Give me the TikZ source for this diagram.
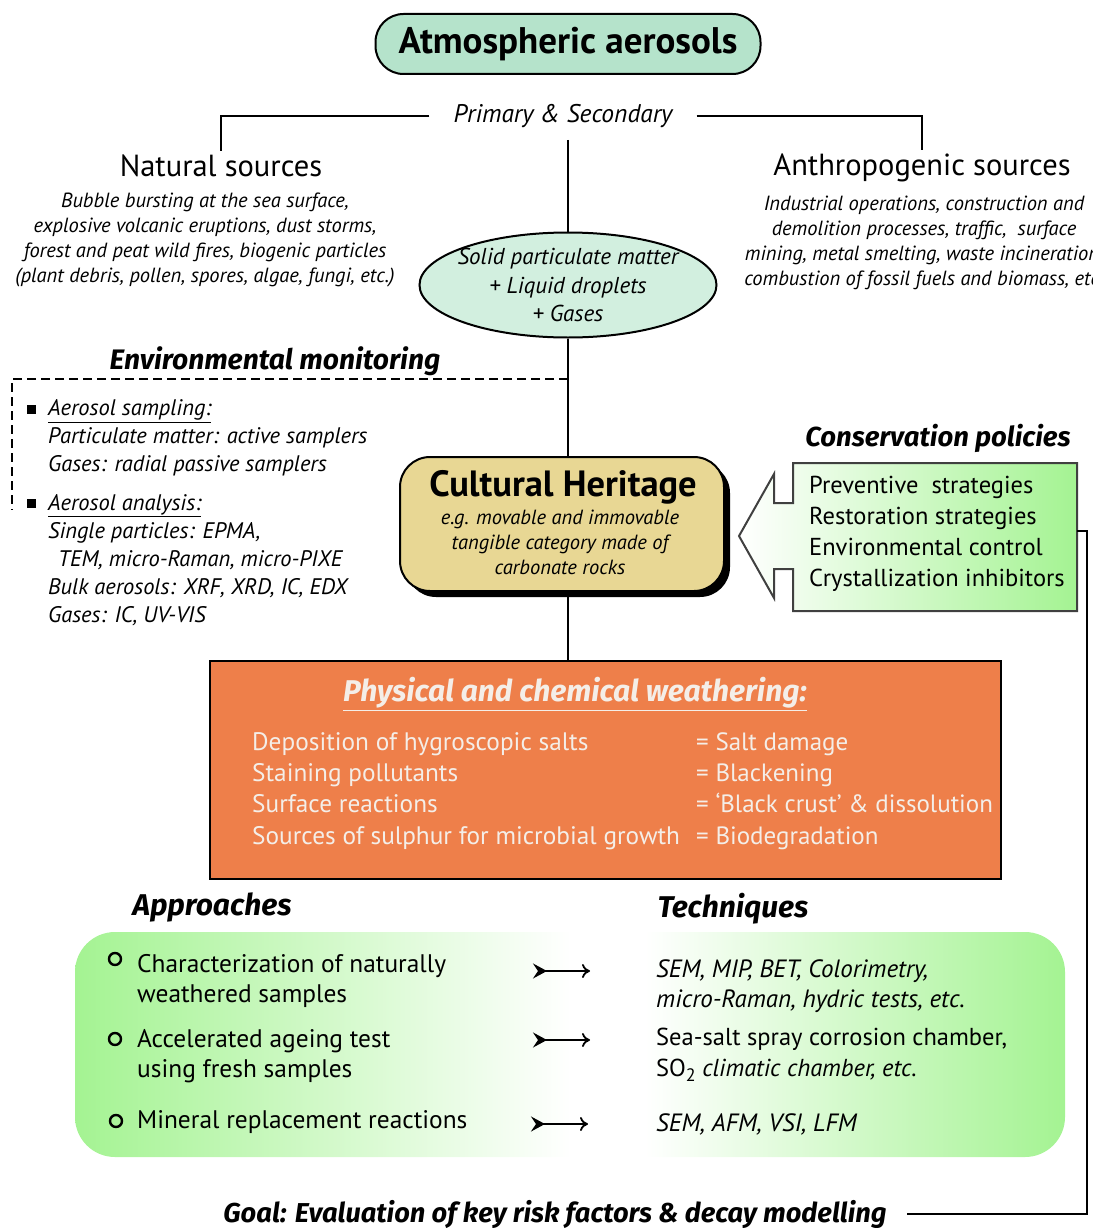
\documentclass[tikz,border=0pt]{standalone}
\usepackage{fontspec}
\setmainfont{PT Sans}
\newfontfamily\headfont{Fira Sans}
\usetikzlibrary{shapes.geometric, arrows.meta, shadows}

\definecolor{mintdark}{HTML}{B5E3CB}
\definecolor{mintlight}{HTML}{D2EFDF}
\definecolor{khaki}{HTML}{E8D794}
\definecolor{leafgreen}{HTML}{A4F392}
\definecolor{rust}{HTML}{EE7F4A}
\definecolor{paletext}{HTML}{F4EEE8}

\newcommand{\fsz}[2]{\fontsize{#1}{#2}\selectfont}

\begin{document}
\begin{tikzpicture}[x=1pt, y=-1pt,
            every node/.style={inner sep=0pt},
            wire/.style={line width=2pt},
            pill/.style={draw, line width=2pt, rounded corners=28pt, fill=mintdark, minimum width=385pt, minimum height=60pt},
            chbox/.style={draw, line width=2pt, rounded corners=30pt, fill=khaki, minimum width=324pt, minimum height=134pt,
                general shadow={fill=black, shadow xshift=6pt, shadow yshift=-6pt}},
            weatherbox/.style={draw, line width=2.5pt, fill=rust, minimum width=791pt, minimum height=218pt},
            sqbullet/.style={fill=black, minimum size=9pt},
            circbullet/.style={draw, line width=2.4pt, circle, minimum size=12pt},
            heading/.style={font=\headfont\fsz{30}{32}\bfseries\itshape},
            arr/.style={line width=1.8pt, {Stealth[reversed, length=14pt, width=15pt, inset=5pt]}-{To[length=8pt, width=14pt]}}]

            \useasboundingbox (0,0) rectangle (1092,1228);
            \clip (0,0) rectangle (1092,1228);

            % top part
            \node[pill, font=\fsz{37}{40}\bfseries] (aero) at (568,44) {Atmospheric aerosols};
            \node[inner xsep=24pt, inner ysep=12pt, font=\fsz{25.5}{28}\itshape] (ps) at (563,116) {Primary \& Secondary};
            \node[inner ysep=4pt, font=\fsz{30.5}{34}] (nat) at (221,166) {Natural sources};
            \node[inner ysep=4pt, font=\fsz{30.5}{34}] (anth) at (922,168) {Anthropogenic sources};
            \node[align=center, font=\fsz{20.5}{25}\itshape] (natx) at (205,240) {Bubble bursting at the sea surface,\\explosive volcanic eruptions, dust storms,\\forest and peat wild fires, biogenic particles\\(plant debris, pollen, spores, algae, fungi, etc.)};
            \node[align=center, font=\fsz{20.5}{25}\itshape] (anthx) at (924,243) {Industrial operations, construction and\\demolition processes, traffic,\ \ surface\\mining, metal smelting, waste incineration,\\combustion of fossil fuels and biomass, etc.};
            \node[draw, wire, ellipse, fill=mintlight, minimum width=297pt, minimum height=105pt] (mix) at (568,285) {};
            \node[align=center, font=\fsz{23}{28.5}\itshape] (mixt) at (568,285) {Solid particulate matter\\+ Liquid droplets\\+ Gases};

            \draw[wire] (ps.west) -| (nat.north);
            \draw[wire] (ps.east) -| (anth.north);
            \draw[wire] (ps.south -| mix.north) -- (mix.north);

            % monitoring
            \node[heading, font=\headfont\fsz{28.2}{30}\bfseries\itshape] (envt) at (275,361) {Environmental monitoring};
            \coordinate (dashR) at (568,379);
            \coordinate (dashE) at (12,510);
            \draw[line width=1.5pt, dash pattern=on 9pt off 5pt] (dashR) -| (dashE);
            \node[sqbullet] (b1) at (31,409) {};
            \node[sqbullet] (b2) at (31,503) {};
            \node[anchor=west, align=left, font=\fsz{22.5}{28}\itshape] (mon1) at (48,438) {\underline{Aerosol sampling:}\\Particulate matter: active samplers\\Gases: radial passive samplers};
            \node[anchor=west, align=left, font=\fsz{22.5}{28}\itshape] (mon2) at (48,560) {\underline{Aerosol analysis:}\\Single particles: EPMA,\\\hspace*{10pt}TEM, micro-Raman, micro-PIXE\\Bulk aerosols: XRF, XRD, IC, EDX\\Gases: IC, UV-VIS};

            % cultural heritage
            \node[chbox] (ch) at (562,524) {};
            \node[font=\fsz{36.5}{38}\bfseries] (cht) at (563,487) {Cultural Heritage};
            \node[align=center, font=\fsz{20.5}{25}\itshape] (chs) at (560,542) {e.g. movable and immovable\\tangible category made of\\carbonate rocks};
            \draw[wire] (mix.south) -- (mix.south |- ch.north);

            % conservation policies
            \node[heading, font=\headfont\fsz{27.5}{30}\bfseries\itshape] (const) at (938,438) {Conservation policies};
            \shade[left color=white, right color=leafgreen, draw=black!75, line width=2pt]
                (793,463) -- (1077,463) -- (1077,611) -- (793,611) -- (793,569) -- (774,569) -- (774,598)
                -- (739,536) -- (774,474) -- (774,503) -- (793,503) -- cycle;
            \node[anchor=west, align=left, font=\fsz{24.5}{31}] (cons) at (809,534) {Preventive\ \ strategies\\Restoration strategies\\Environmental control\\Crystallization inhibitors};
            \coordinate (consR) at (1077,531);

            % weathering
            \node[weatherbox] (weather) at (605.5,770) {};
            \draw[wire] (ch.south -| mix.south) -- (weather.north -| mix.south);
            \node[text=paletext, heading] (wt) at (575,694) {\underline{Physical and chemical weathering:}};
            \node[anchor=west, align=left, text=paletext, font=\fsz{25.3}{31.3}] (wl) at (252,791) {Deposition of hygroscopic salts\\Staining pollutants\\Surface reactions\\Sources of sulphur for microbial growth};
            \node[anchor=west, align=left, text=paletext, font=\fsz{25}{31.3}] (wr) at (696,791) {= Salt damage\\= Blackening\\= `Black crust' \& dissolution\\= Biodegradation};

            % approaches and techniques
            \node[heading] (appr) at (212,907) {Approaches};
            \node[heading] (tech) at (733,909) {Techniques};
            \begin{scope}
                \clip[rounded corners=40pt] (75,932) rectangle (1065,1157);
                \shade[left color=leafgreen, right color=white] (75,932) rectangle (571,1157);
                \fill[white] (570,932) rectangle (646,1157);
                \shade[left color=white, right color=leafgreen] (645,932) rectangle (1065,1157);
            \end{scope}

            \node[circbullet] (c1) at (115,959) {};
            \node[circbullet] (c2) at (115,1039) {};
            \node[circbullet] (c3) at (116,1121) {};
            \node[anchor=west, align=left, font=\fsz{25.4}{30.5}] (a1) at (137,981) {Characterization of naturally\\weathered samples};
            \node[anchor=west, align=left, font=\fsz{25.4}{30.5}] (a2) at (137,1056) {Accelerated ageing test\\using fresh samples};
            \node[anchor=west, font=\fsz{25.4}{30.5}] (a3) at (137,1122) {Mineral replacement reactions};
            \node[anchor=west, align=left, font=\fsz{25}{30.5}\itshape] (t1) at (656,986) {SEM, MIP, BET, Colorimetry,\\micro-Raman, hydric tests, etc.};
            \node[anchor=west, align=left, font=\fsz{24.5}{30.5}] (t2) at (656,1055) {Sea-salt spray corrosion chamber,\\SO\raisebox{-5pt}{\fsz{18}{20}2} \textit{climatic chamber, etc.}};
            \node[anchor=west, font=\fsz{25}{30.5}\itshape] (t3) at (656,1124) {SEM, AFM, VSI, LFM};

            \coordinate (r1s) at (533,971);
            \coordinate (r1e) at (590,971);
            \coordinate (r2s) at (533,1040);
            \coordinate (r2e) at (590,1040);
            \coordinate (r3s) at (531,1124);
            \coordinate (r3e) at (588,1124);
            \draw[arr] (r1s) -- (r1e);
            \draw[arr] (r2s) -- (r2e);
            \draw[arr] (r3s) -- (r3e);

            % goal
            \node[heading, font=\headfont\fsz{27.3}{30}\bfseries\itshape, inner xsep=20pt] (goal) at (555,1214) {Goal: Evaluation of key risk factors \& decay modelling};
            \draw[wire] (consR) -- (1087,531) |- (goal.east);
\end{tikzpicture}
\end{document}
